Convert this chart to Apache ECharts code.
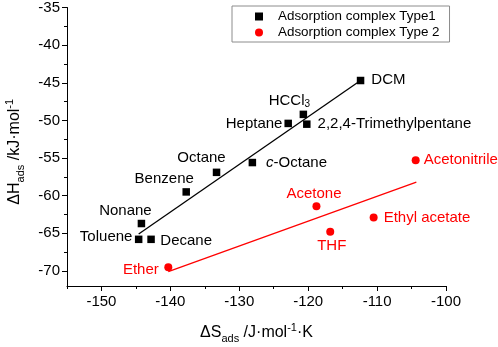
<!DOCTYPE html>
<html>
<head>
<meta charset="utf-8">
<script src="https://cdn.jsdelivr.net/npm/echarts@6/dist/echarts.min.js"></script>
<style>
  html, body { margin: 0; padding: 0; background: #fff; }
  #chart { width: 498px; height: 347px; }
</style>
</head>
<body>
<div id="chart"></div>
<script>
// Type 1 (black squares)
var type1Names = ['DCM', 'HCCl3', 'Heptane', '2,2,4-Trimethylpentane', 'c-Octane',
                  'Octane', 'Benzene', 'Nonane', 'Toluene', 'Decane'];
var type1X = [-112.4, -120.7, -122.9, -120.2, -128.1, -133.3, -137.7, -144.2, -144.6, -142.8];
var type1Y = [-44.7, -49.2, -50.4, -50.5, -55.6, -56.9, -59.5, -63.7, -65.8, -65.8];

// Type 2 (red circles)
var type2Names = ['Ether', 'Acetonitrile', 'Acetone', 'THF', 'Ethyl acetate'];
var type2X = [-140.3, -104.4, -118.8, -116.8, -110.5];
var type2Y = [-69.5, -55.3, -61.4, -64.8, -62.9];

// fitted lines (end points)
var fit1X = [-144.6, -112.4];
var fit1Y = [-65.1, -44.7];
var fit2X = [-140.3, -104.3];
var fit2Y = [-70.1, -58.2];

// axis ticks
var xTicks = [-150, -140, -130, -120, -110, -100];
var xMinor = [-155, -145, -135, -125, -115, -105];
var yTicks = [-70, -65, -60, -55, -50, -45, -40, -35];
var yMinor = [-67.5, -62.5, -57.5, -52.5, -47.5, -42.5, -37.5];

var FONT = 'Arial, "Liberation Sans", sans-serif';

// where each label sits around its point
var labelLayout = {
    'DCM': { position: 'right', distance: 7, offset: [0, -1] },
    'HCCl3': { position: 'inside', offset: [-14, -14] },
    'Heptane': { position: 'left', distance: 2, offset: [0, 0] },
    '2,2,4-Trimethylpentane': { position: 'right', distance: 7, offset: [0, 0] },
    'c-Octane': { position: 'right', distance: 10, offset: [0, 0] },
    'Octane': { position: 'inside', offset: [-15, -14] },
    'Benzene': { position: 'inside', offset: [-22, -13] },
    'Nonane': { position: 'inside', offset: [-16, -13] },
    'Toluene': { position: 'left', distance: 2.5, offset: [0, -2.5] },
    'Decane': { position: 'right', distance: 5.5, offset: [0, 1.5] },
    'Ether': { position: 'left', distance: 5.5, offset: [0, 3] },
    'Acetonitrile': { position: 'right', distance: 4, offset: [0, 0] },
    'Acetone': { position: 'inside', offset: [-2.5, -12] },
    'THF': { position: 'inside', offset: [1.5, 14] },
    'Ethyl acetate': { position: 'right', distance: 6, offset: [0, 0] }
};

var labelText = {
    'HCCl3': '{n|HCCl}{sub|3}',
    'c-Octane': '{i|c}{n|-Octane}'
};

function buildData(xs, ys, names, color) {
    return xs.map(function (x, i) {
        var name = names[i];
        var lay = labelLayout[name];
        return {
            value: [x, ys[i]],
            name: name,
            label: {
                show: true,
                color: color,
                position: lay.position,
                distance: lay.distance || 0,
                offset: lay.offset,
                formatter: labelText[name] || ('{n|' + name + '}'),
                rich: {
                    n: { fontSize: 15, color: color, fontFamily: FONT },
                    i: { fontSize: 15, color: color, fontFamily: FONT, fontStyle: 'italic' },
                    sub: { fontSize: 10, color: color, fontFamily: FONT, verticalAlign: 'bottom', padding: [8, 0, 0, 0] }
                }
            }
        };
    });
}

function pairs(xs, ys) {
    return xs.map(function (x, i) { return [x, ys[i]]; });
}

var chart = echarts.init(document.getElementById('chart'));

var nameRich = {
    a: { fontSize: 16, color: '#000', fontFamily: FONT, lineHeight: 22 },
    b: { fontSize: 11, color: '#000', fontFamily: FONT, verticalAlign: 'bottom', padding: [10, 0, 0, 0] },
    c: { fontSize: 11, color: '#000', fontFamily: FONT, verticalAlign: 'top', padding: [0, 0, 8, 0] }
};

var option = {
    backgroundColor: '#fff',
    animation: false,
    textStyle: { fontFamily: FONT },
    grid: { left: 67, right: 52, top: 7.5, bottom: 61, outerBoundsMode: 'none', containLabel: false },
    legend: {
        orient: 'vertical',
        left: 232,
        top: 6,
        width: 217,
        padding: [4, 10, 3, 23],
        itemGap: 3,
        itemWidth: 8,
        itemHeight: 8,
        borderColor: '#8c8c8c',
        borderWidth: 1,
        itemStyle: { opacity: 1 },
        textStyle: { fontSize: 13.4, color: '#000', fontFamily: FONT, padding: [0, 0, 0, 10] },
        data: [
            { name: 'Adsorption complex Type1', icon: 'rect' },
            { name: 'Adsorption complex Type 2', icon: 'circle' }
        ]
    },
    xAxis: [{
        type: 'value',
        min: -155,
        max: -100,
        position: 'bottom',
        name: '{a|ΔS}{b|ads}{a| /J·mol}{c|-1}{a|·K}',
        nameLocation: 'middle',
        nameGap: 36,
        nameTextStyle: { rich: nameRich },
        axisLine: { show: true, lineStyle: { color: '#000', width: 1 } },
        axisTick: { show: true, inside: false, length: 5, customValues: xTicks, lineStyle: { color: '#000' } },
        axisLabel: { customValues: xTicks, fontSize: 15, color: '#000', margin: 8, fontFamily: FONT },
        splitLine: { show: false }
    }, {
        type: 'value',
        min: -155,
        max: -100,
        position: 'bottom',
        axisLine: { show: false },
        axisTick: { show: true, inside: false, length: 3, customValues: xMinor, lineStyle: { color: '#000' } },
        axisLabel: { show: false },
        splitLine: { show: false }
    }],
    yAxis: [{
        type: 'value',
        min: -72,
        max: -35,
        position: 'left',
        name: '{a|ΔH}{b|ads}{a| /kJ·mol}{c|-1}',
        nameLocation: 'middle',
        nameRotate: 90,
        nameGap: 41,
        nameTextStyle: { rich: nameRich, padding: [0, 10, 0, 0] },
        axisLine: { show: true, lineStyle: { color: '#000', width: 1 } },
        axisTick: { show: true, inside: false, length: 5, customValues: yTicks, lineStyle: { color: '#000' } },
        axisLabel: { customValues: yTicks, fontSize: 15, color: '#000', margin: 7, fontFamily: FONT },
        splitLine: { show: false }
    }, {
        type: 'value',
        min: -72,
        max: -35,
        position: 'left',
        axisLine: { show: false },
        axisTick: { show: true, inside: false, length: 3, customValues: yMinor, lineStyle: { color: '#000' } },
        axisLabel: { show: false },
        splitLine: { show: false }
    }],
    series: [{
        name: 'Adsorption complex Type1',
        type: 'scatter',
        symbol: 'rect',
        symbolSize: 7.5,
        itemStyle: { color: '#000', opacity: 1 },
        data: buildData(type1X, type1Y, type1Names, '#000'),
        z: 3
    }, {
        name: 'Adsorption complex Type 2',
        type: 'scatter',
        symbol: 'circle',
        symbolSize: 8,
        itemStyle: { color: '#ff0000', opacity: 1 },
        data: buildData(type2X, type2Y, type2Names, '#ff0000'),
        z: 3
    }, {
        name: 'fit1',
        type: 'line',
        symbol: 'none',
        lineStyle: { color: '#000', width: 1.3 },
        data: pairs(fit1X, fit1Y),
        z: 2
    }, {
        name: 'fit2',
        type: 'line',
        symbol: 'none',
        lineStyle: { color: '#ff0000', width: 1.3 },
        data: pairs(fit2X, fit2Y),
        z: 2
    }]
};

chart.setOption(option);

window.onresize = function () {
    chart.resize();
};
</script>
</body>
</html>
